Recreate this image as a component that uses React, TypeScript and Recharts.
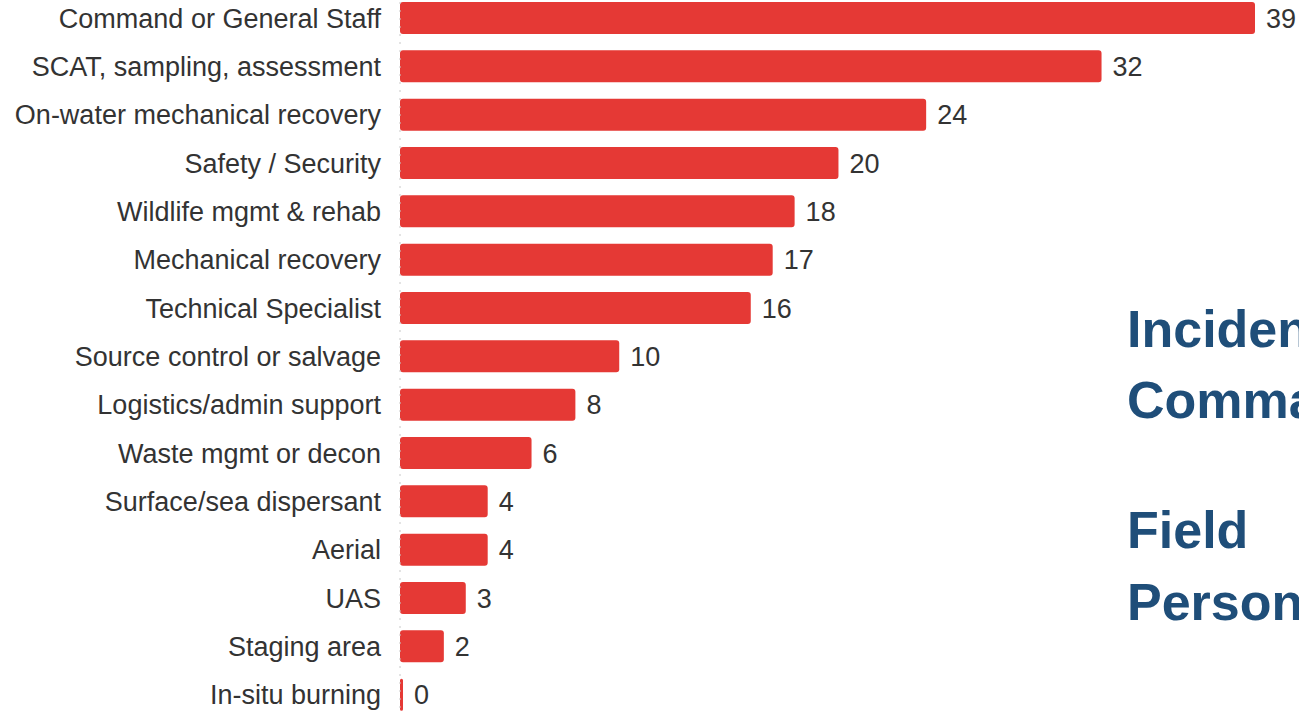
import React from 'react';
import { BarChart, Bar, XAxis, YAxis, LabelList } from 'recharts';

const roles = [
  'Command or General Staff',
  'SCAT, sampling, assessment',
  'On-water mechanical recovery',
  'Safety / Security',
  'Wildlife mgmt & rehab',
  'Mechanical recovery',
  'Technical Specialist',
  'Source control or salvage',
  'Logistics/admin support',
  'Waste mgmt or decon',
  'Surface/sea dispersant',
  'Aerial',
  'UAS',
  'Staging area',
  'In-situ burning',
];
const counts = [39, 32, 24, 20, 18, 17, 16, 10, 8, 6, 4, 4, 3, 2, 0];
const sideLines = ['Incident', 'Command', 'Field', 'Personnel'];

const data = roles.map((name, i) => ({ name, value: counts[i] }));

const FONT = '"Liberation Sans", Arial, sans-serif';

export default function App() {
  return (
    <div style={{ position: 'absolute', left: 0, top: 0, width: 1299, height: 711, overflow: 'hidden', background: '#fff' }}>
      <div style={{ position: 'absolute', left: 0, top: -6 }}>
        <BarChart
          width={1299}
          height={725}
          data={data}
          layout="vertical"
          margin={{ top: 0, right: 44, bottom: 0, left: 0 }}
        >
          <XAxis type="number" domain={[0, 39]} hide />
          <YAxis
            type="category"
            dataKey="name"
            width={400}
            interval={0}
            tickLine={false}
            tickSize={6}
            tickMargin={13}
            axisLine={{ stroke: '#c8c8c8', strokeDasharray: '2 6' }}
            tick={{ fill: '#333', fontSize: 27, fontFamily: FONT }}
          />
          <Bar dataKey="value" fill="#e53935" barSize={32} minPointSize={3} radius={3} isAnimationActive={false}>
            <LabelList dataKey="value" position="right" offset={11} fill="#333" fontSize={27} fontFamily={FONT} />
          </Bar>
        </BarChart>
      </div>
      <svg width={1299} height={711} style={{ position: 'absolute', left: 0, top: 0, pointerEvents: 'none' }}>
        {[347, 418, 548, 620].map((y, i) => (
          <text key={i} x={1127} y={y} fill="#1f4e79" fontSize={52} fontWeight="bold" fontFamily={FONT}>
            {sideLines[i]}
          </text>
        ))}
      </svg>
    </div>
  );
}
